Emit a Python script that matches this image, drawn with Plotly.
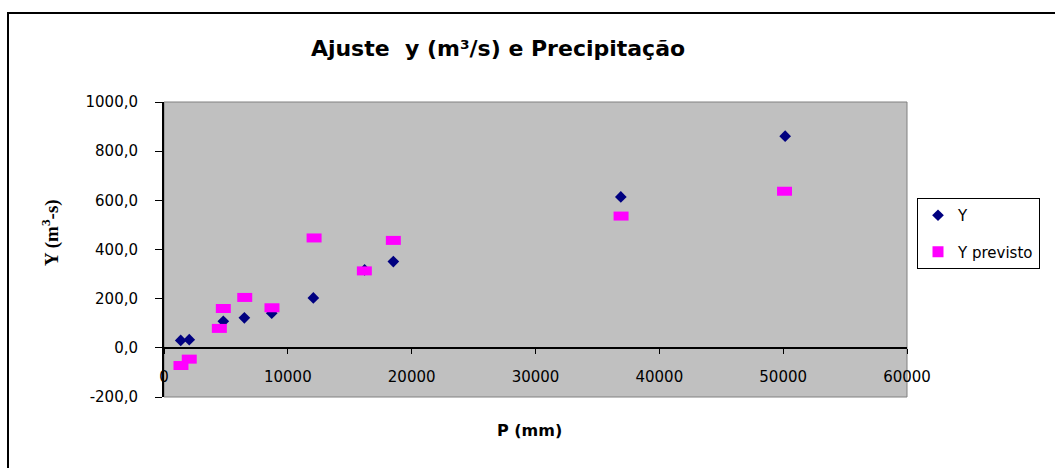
import plotly.graph_objects as go

# ---- data ----
p_obs = [1350, 2040, 4790, 6490, 8700, 12060, 16200, 18520, 36890, 50160]
y_obs = [30, 33, 108, 122, 141, 203, 317, 351, 614, 861]

p_prev = [1370, 2040, 4470, 4790, 6520, 8720, 12120, 16180, 18520, 36910, 50110]
y_prev = [-72, -46, 79, 160, 205, 163, 447, 313, 437, 536, 637]

x_tickvals = [0, 10000, 20000, 30000, 40000, 50000, 60000]
x_ticktext = ["0", "10000", "20000", "30000", "40000", "50000", "60000"]
y_tickvals = [-200, 0, 200, 400, 600, 800, 1000]
y_ticktext = ["-200,0", "0,0", "200,0", "400,0", "600,0", "800,0", "1000,0"]

title_text = "Ajuste  y (m³/s) e Precipitação"
x_title = "P (mm)"
y_title = "Y (m<sup>3</sup>-s)"
names = ["Y", "Y previsto"]

NAVY = "#000080"
MAGENTA = "#FF00FF"
FONT = "DejaVu Sans"

W, H = 1055, 468
L, R, T, B = 164, 148, 102, 71
PW, PH = W - L - R, H - T - B


def px_x(px):
    return (px - L) / PW


def px_y(py):
    return (H - B - py) / PH


fig = go.Figure()

# data traces
fig.add_trace(go.Scatter(
    x=p_obs, y=y_obs, mode="markers", name=names[0], showlegend=False,
    marker=dict(symbol="diamond", size=9, color=NAVY, line=dict(width=0)),
))
fig.add_trace(go.Scatter(
    x=p_prev, y=y_prev, mode="markers", name=names[1], showlegend=False,
    marker=dict(symbol="line-ew", size=10.7, color=MAGENTA,
                line=dict(width=9, color=MAGENTA)),
))
# legend entries
fig.add_trace(go.Scatter(
    x=[None], y=[None], mode="markers", name=names[0], legendgroup="a",
    marker=dict(symbol="diamond", size=9, color=NAVY),
))
fig.add_trace(go.Scatter(
    x=[None], y=[None], mode="markers", name=names[1], legendgroup="b",
    marker=dict(symbol="square", size=11, color=MAGENTA),
))

y0_pos = (0 - (-200)) / 1200.0

fig.update_layout(
    width=W, height=H,
    margin=dict(l=L, r=R, t=T, b=B, autoexpand=False),
    paper_bgcolor="white",
    plot_bgcolor="#C0C0C0",
    font=dict(family=FONT, size=15, color="black"),
    title=dict(
        text=title_text, x=px_x(498), xref="paper", xanchor="center",
        y=1 - 48 / H, yref="container", yanchor="middle",
        font=dict(family=FONT, size=22, color="black", weight="bold"),
    ),
    xaxis=dict(
        range=[0, 60000], tickvals=x_tickvals, ticktext=x_ticktext,
        anchor="free", position=y0_pos,
        showline=True, linecolor="black", linewidth=2,
        ticks="outside", ticklen=5, tickwidth=1, tickcolor="black",
        ticklabelstandoff=10,
        showgrid=False, zeroline=False,
        tickfont=dict(family=FONT, size=15, color="black"),
        fixedrange=True,
    ),
    xaxis2=dict(
        range=[0, 60000], tickvals=x_tickvals, overlaying="x",
        anchor="free", position=y0_pos,
        showline=False, showticklabels=False,
        ticks="inside", ticklen=5, tickwidth=1, tickcolor="black",
        showgrid=False, zeroline=False,
    ),
    yaxis=dict(
        range=[-200, 1000], tickvals=y_tickvals, ticktext=y_ticktext,
        showline=True, linecolor="black", linewidth=2,
        ticks="outside", ticklen=7, tickwidth=1, tickcolor="black",
        ticklabelstandoff=14,
        showgrid=False, zeroline=False,
        tickfont=dict(family=FONT, size=15, color="black"),
        fixedrange=True,
    ),
    legend=dict(
        x=px_x(917), xanchor="left", y=px_y(198), yanchor="top",
        bgcolor="white", bordercolor="black", borderwidth=1,
        font=dict(family=FONT, size=15, color="black"),
        tracegroupgap=14, traceorder="grouped",
        itemwidth=30,
    ),
    showlegend=True,
    annotations=[
        dict(text=y_title, xref="paper", yref="paper",
             x=px_x(50), y=px_y(233), xanchor="center", yanchor="middle",
             textangle=-90, showarrow=False,
             font=dict(family="Liberation Serif", size=19, color="black", weight="bold")),
        dict(text=x_title, xref="paper", yref="paper",
             x=px_x(529), y=px_y(430), xanchor="center", yanchor="middle",
             showarrow=False,
             font=dict(family=FONT, size=16, color="black", weight="bold")),
    ],
    shapes=[
        # plot area border
        dict(type="rect", xref="paper", yref="paper", x0=0, y0=0, x1=1, y1=1,
             line=dict(color="#808080", width=1), layer="below"),
        # outer chart frame
        dict(type="rect", xref="paper", yref="paper",
             x0=px_x(8), y0=px_y(H + 20), x1=px_x(W + 20), y1=px_y(13),
             line=dict(color="black", width=2)),
    ],
)

fig.write_html("out.html")
